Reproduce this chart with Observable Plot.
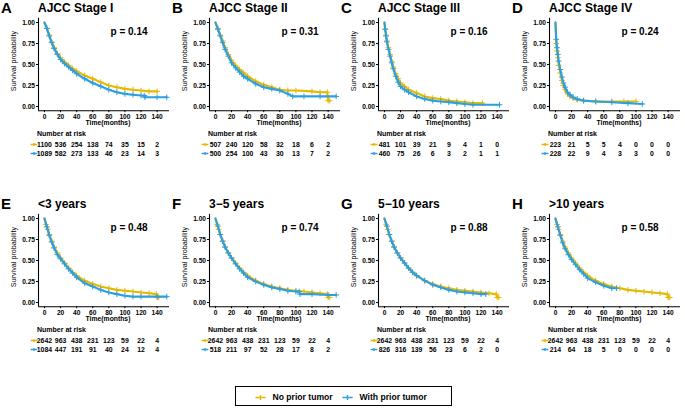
<!DOCTYPE html>
<html><head><meta charset="utf-8">
<script src="https://cdn.jsdelivr.net/npm/d3@7"></script>
<script src="https://cdn.jsdelivr.net/npm/@observablehq/plot@0.6"></script>
<style>
body{margin:0;background:#fff;font-family:"Liberation Sans",Arial,sans-serif;}
#root{position:relative;width:685px;height:408px;overflow:hidden;background:#fff;}
.abs{position:absolute;white-space:nowrap;color:#000;line-height:1;}
.plotwrap{position:absolute;}
.plotwrap svg{overflow:visible;}
</style></head><body><div id="root"></div><script>
// ---------- data ----------
const YEL = "#E7B800", BLUE = "#2E9FDF";
const groups = ["No prior tumor", "With prior tumor"];
const letters = ["A","B","C","D","E","F","G","H"];
const titles = ["AJCC Stage I","AJCC Stage II","AJCC Stage III","AJCC Stage IV","<3 years","3\u22125 years","5\u221210 years",">10 years"];
const pValues = ["0.14","0.31","0.16","0.24","0.48","0.74","0.88","0.58"];
const xTicks = [0,20,40,60,80,100,120,140];
const yTicks = [0,0.25,0.5,0.75,1];
const riskTimes = [0,20,40,60,80,100,120,140];

// survival curves [months, probability]
const stageI_no = [[0,1],[3,0.93],[6,0.85],[9,0.77],[12,0.70],[16,0.63],[20,0.58],[25,0.53],[30,0.49],[35,0.45],[40,0.42],[50,0.37],[60,0.33],[70,0.29],[80,0.25],[90,0.23],[100,0.21],[110,0.20],[120,0.19],[130,0.18],[140,0.18]];
const stageI_with = [[0,1],[3,0.93],[6,0.84],[9,0.76],[12,0.69],[16,0.62],[20,0.56],[25,0.51],[30,0.47],[35,0.43],[40,0.39],[50,0.33],[60,0.28],[70,0.24],[80,0.20],[90,0.17],[100,0.15],[110,0.14],[120,0.13],[124,0.13],[125,0.11],[140,0.11],[152,0.11]];
const stageII_no = [[0,1],[3,0.93],[6,0.85],[9,0.78],[12,0.70],[16,0.62],[20,0.55],[25,0.49],[30,0.44],[35,0.40],[40,0.36],[50,0.30],[60,0.26],[70,0.23],[80,0.20],[90,0.19],[100,0.19],[120,0.18],[130,0.17],[139,0.17],[140,0.07],[142,0.07]];
const stageII_with = [[0,1],[3,0.92],[6,0.84],[9,0.76],[12,0.68],[16,0.60],[20,0.52],[25,0.46],[30,0.41],[35,0.36],[40,0.33],[50,0.27],[60,0.23],[70,0.21],[80,0.19],[90,0.15],[96,0.12],[110,0.12],[130,0.12],[150,0.12]];
const stageIII_no = [[0,1],[1,0.92],[2,0.85],[3,0.78],[5,0.70],[7,0.62],[9,0.54],[11,0.47],[14,0.39],[17,0.33],[20,0.28],[25,0.24],[30,0.20],[40,0.16],[50,0.12],[60,0.10],[70,0.09],[80,0.07],[90,0.06],[100,0.05],[110,0.04],[122,0.04]];
const stageIII_with = [[0,1],[1,0.92],[2,0.84],[3,0.77],[5,0.68],[7,0.60],[9,0.52],[11,0.45],[14,0.36],[17,0.29],[20,0.24],[25,0.20],[30,0.17],[40,0.12],[50,0.09],[60,0.07],[70,0.06],[80,0.05],[90,0.04],[100,0.03],[110,0.02],[143,0.02]];
const stageIV_no = [[0,1],[1,0.75],[2,0.66],[3,0.58],[4,0.49],[6,0.40],[8,0.31],[10,0.25],[12,0.20],[15,0.15],[18,0.12],[22,0.10],[27,0.08],[35,0.07],[50,0.06],[70,0.06],[85,0.06],[100,0.06]];
const stageIV_with = [[0,1],[1,0.80],[2,0.70],[3,0.62],[4,0.54],[6,0.44],[8,0.35],[10,0.28],[12,0.23],[15,0.17],[18,0.14],[22,0.11],[27,0.09],[35,0.07],[50,0.06],[70,0.05],[90,0.04],[108,0.03]];
const age_no = [[0,1],[2,0.93],[4,0.87],[6,0.81],[9,0.73],[12,0.66],[16,0.59],[20,0.53],[25,0.47],[30,0.41],[35,0.36],[40,0.32],[50,0.26],[60,0.22],[70,0.19],[80,0.17],[90,0.15],[100,0.14],[110,0.13],[120,0.12],[130,0.11],[139,0.10],[140,0.06],[142,0.06]];
const lt3_with = [[0,1],[3,0.90],[6,0.80],[9,0.72],[12,0.65],[16,0.57],[20,0.52],[25,0.46],[30,0.40],[35,0.35],[40,0.30],[50,0.23],[60,0.19],[70,0.15],[80,0.12],[90,0.10],[100,0.08],[110,0.07],[120,0.07],[140,0.07],[152,0.07]];
const y3to5_with = [[0,1],[3,0.91],[6,0.81],[9,0.73],[12,0.66],[16,0.59],[20,0.53],[25,0.46],[30,0.40],[35,0.35],[40,0.30],[50,0.25],[60,0.21],[70,0.18],[80,0.16],[90,0.14],[100,0.13],[104,0.13],[105,0.10],[120,0.10],[140,0.09],[150,0.09]];
const y5to10_with = [[0,1],[3,0.91],[6,0.81],[9,0.73],[12,0.66],[16,0.59],[20,0.53],[25,0.47],[30,0.41],[35,0.36],[40,0.32],[50,0.26],[60,0.21],[70,0.18],[80,0.15],[90,0.13],[100,0.12],[110,0.11],[120,0.10],[126,0.10]];
const gt10_with = [[0,1],[3,0.90],[6,0.80],[9,0.71],[12,0.64],[16,0.57],[20,0.51],[25,0.45],[30,0.39],[35,0.34],[40,0.29],[50,0.24],[60,0.20],[70,0.17],[76,0.17]];

// numbers at risk
const riskStageI_no = [1100,536,254,138,74,35,15,2];
const riskStageI_with = [1089,582,273,133,46,23,14,3];
const riskStageII_no = [507,240,120,58,32,18,6,2];
const riskStageII_with = [500,254,100,43,30,13,7,2];
const riskStageIII_no = [481,101,39,21,9,4,1,0];
const riskStageIII_with = [460,75,26,6,3,2,1,1];
const riskStageIV_no = [223,21,5,5,4,0,0,0];
const riskStageIV_with = [228,22,9,4,3,3,0,0];
const riskAge_no = [2642,963,438,231,123,59,22,4];
const riskLt3_with = [1084,447,191,91,40,24,12,4];
const risk3to5_with = [518,211,97,52,28,17,8,2];
const risk5to10_with = [826,316,139,56,23,6,2,0];
const riskGt10_with = [214,64,18,5,0,0,0,0];

const curvesNo = [stageI_no, stageII_no, stageIII_no, stageIV_no, age_no, age_no, age_no, age_no];
const curvesWith = [stageI_with, stageII_with, stageIII_with, stageIV_with, lt3_with, y3to5_with, y5to10_with, gt10_with];
const risksNo = [riskStageI_no, riskStageII_no, riskStageIII_no, riskStageIV_no, riskAge_no, riskAge_no, riskAge_no, riskAge_no];
const risksWith = [riskStageI_with, riskStageII_with, riskStageIII_with, riskStageIV_with, riskLt3_with, risk3to5_with, risk5to10_with, riskGt10_with];

// ---------- layout ----------
const FONT = "'Liberation Sans', Arial, sans-serif";
const colLeft = [0, 171, 340, 511];
const rowTop = [0, 196];
const xDomain = [-7.4, 155.4];
const yDomain = [-0.05, 1.05];
const root = document.getElementById("root");

const keySymbol = {
  draw(ctx, size) {
    const r = Math.sqrt(size / Math.PI);
    ctx.moveTo(-r * 1.7, 0); ctx.lineTo(r * 1.7, 0);
    ctx.moveTo(0, -r * 0.8); ctx.lineTo(0, r * 0.8);
  }
};

function addText(txt, left, top, css) {
  const d = document.createElement("div");
  d.className = "abs";
  d.textContent = txt;
  d.style.left = left + "px";
  d.style.top = top + "px";
  Object.assign(d.style, css || {});
  root.appendChild(d);
  return d;
}
function addPlot(svg, left, top) {
  const w = document.createElement("div");
  w.className = "plotwrap";
  w.style.left = left + "px";
  w.style.top = top + "px";
  w.appendChild(svg);
  root.appendChild(w);
}
const toObj = (arr) => arr.map(([t, s]) => ({t, s}));

for (let i = 0; i < 8; i++) {
  const L = colLeft[i % 4], T = rowTop[Math.floor(i / 4)];
  const no = toObj(curvesNo[i]), wi = toObj(curvesWith[i]);

  addText(letters[i], L + 1, T + 0, {fontSize: "15px", fontWeight: "bold", fontFamily: FONT});
  addText(titles[i], L + 38, T + 2, {fontSize: "12px", fontWeight: "bold", fontFamily: FONT});

  const curve = Plot.plot({
    width: 170, height: 128,
    marginLeft: 38, marginRight: 1, marginTop: 17.8, marginBottom: 17.8,
    style: {fontFamily: FONT, fontSize: "6.6px", fontWeight: "bold", color: "#000", background: "transparent", overflow: "visible"},
    x: {domain: xDomain},
    y: {domain: yDomain},
    marks: [
      Plot.axisX({ticks: xTicks, tickSize: 2, tickPadding: 1.5, tickFormat: (d) => String(d), label: null}),
      Plot.axisY({ticks: yTicks, tickSize: 2, tickPadding: 1.5, tickFormat: d3.format(".2f"), label: null}),
      Plot.ruleX([xDomain[0]], {stroke: "#000", strokeWidth: 1.1}),
      Plot.ruleY([yDomain[0]], {stroke: "#000", strokeWidth: 1.1}),
      Plot.line(no, {x: "t", y: "s", curve: "linear", stroke: YEL, strokeWidth: 2.1, strokeLinejoin: "round"}),
      Plot.dot(no.slice(1), {x: "t", y: "s", symbol: "plus", r: 2, stroke: YEL, strokeWidth: 1}),
      Plot.line(wi, {x: "t", y: "s", curve: "linear", stroke: BLUE, strokeWidth: 2.1, strokeLinejoin: "round"}),
      Plot.dot(wi.slice(1), {x: "t", y: "s", symbol: "plus", r: 2, stroke: BLUE, strokeWidth: 1}),
      Plot.text([pValues[i]], {frameAnchor: "top-right", dx: -22, dy: 10, text: (d) => "p = " + d, fontSize: 10, fontWeight: "bold", fill: "#000"})
    ]
  });
  addPlot(curve, L, T);

  const yl = addText("Survival probability", L + 14, T + 61, {fontSize: "7.2px", fontFamily: FONT});
  yl.style.transform = "translate(-50%,-50%) rotate(-90deg)";
  const xl = addText("Time(months)", L + 108, T + 123, {fontSize: "6.8px", fontWeight: "bold", fontFamily: FONT});
  xl.style.transform = "translate(-50%,-50%)";
  addText("Number at risk", L + 37, T + 130, {fontSize: "7px", fontWeight: "bold", fontFamily: FONT});

  const rows = [];
  riskTimes.forEach((t, k) => {
    rows.push({g: groups[0], t, n: risksNo[i][k]});
    rows.push({g: groups[1], t, n: risksWith[i][k]});
  });
  const risk = Plot.plot({
    width: 170, height: 34,
    marginLeft: 38, marginRight: 1, marginTop: 0, marginBottom: 0,
    style: {fontFamily: FONT, fontSize: "6.5px", fontWeight: "bold", color: "#000", background: "transparent", overflow: "visible"},
    x: {domain: xDomain, axis: null},
    y: {type: "point", domain: groups, range: [16, 25], padding: 0, axis: null},
    color: {domain: groups, range: [YEL, BLUE]},
    marks: [
      Plot.text(rows, {x: "t", y: "g", text: (d) => String(d.n), fill: "#000", fontSize: 6.9, fontWeight: "bold"}),
      Plot.dot(groups, {x: () => xDomain[0], y: (d) => d, dx: -4.5, symbol: keySymbol, r: 2, stroke: (d) => d, strokeWidth: 1.3, fill: "none"})
    ]
  });
  addPlot(risk, L, T + 128);
}

// legend
const box = document.createElement("div");
box.style.cssText = "position:absolute;left:235px;top:386px;width:215px;height:18px;border:1.5px solid #000;background:#fff;";
root.appendChild(box);
const legend = Plot.plot({
  width: 215, height: 18,
  margin: 0,
  style: {fontFamily: FONT, fontSize: "8.6px", fontWeight: "bold", color: "#000", background: "transparent", overflow: "visible"},
  x: {type: "point", domain: groups, range: [24, 111], padding: 0, axis: null},
  y: {type: "point", domain: ["k"], range: [9.5, 9.5], padding: 0, axis: null},
  color: {domain: groups, range: [YEL, BLUE]},
  marks: [
    Plot.dot(groups, {x: (d) => d, y: () => "k", symbol: keySymbol, r: 3, stroke: (d) => d, strokeWidth: 1.4, fill: "none"}),
    Plot.text(groups, {x: (d) => d, y: () => "k", text: (d) => d, dx: 12, textAnchor: "start", fill: "#000", fontSize: 8.6, fontWeight: "bold"})
  ]
});
box.appendChild(legend);
</script></body></html>
